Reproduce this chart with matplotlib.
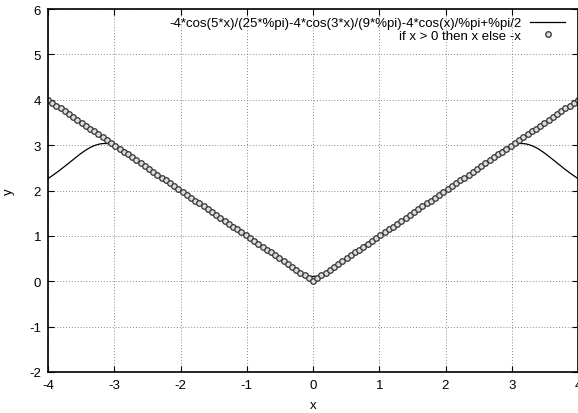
import numpy as np
import matplotlib
matplotlib.use("Agg")
from matplotlib import pyplot as plt

# fourier terms of the curve: -4*cos(k*x)/(k^2*%pi) for k in 1,3,5, plus %pi/2
harmonics = [1, 3, 5]
offset = np.pi / 2
x_curve = np.linspace(-4, 4, 400)
y_curve = offset - sum(4 * np.cos(k * x_curve) / (k * k * np.pi) for k in harmonics)

# sampled points of |x|
x_pts = np.linspace(-4, 4, 127)
y_pts = np.where(x_pts > 0, x_pts, -x_pts)

curve_label = "-4*cos(5*x)/(25*%pi)-4*cos(3*x)/(9*%pi)-4*cos(x)/%pi+%pi/2"
pts_label = "if x > 0 then x else -x"
xticks = [-4, -3, -2, -1, 0, 1, 2, 3, 4]
yticks = [-2, -1, 0, 1, 2, 3, 4, 5, 6]

plt.rcParams['font.family'] = ['Liberation Sans', 'DejaVu Sans']
plt.rcParams['font.size'] = 9.5
plt.rcParams['axes.unicode_minus'] = False

fig = plt.figure(figsize=(5.78, 4.14), dpi=100)
ax = fig.add_axes([48 / 578, 41 / 414, 530 / 578, 363 / 414])

ax.plot(x_curve, y_curve, color='black', lw=0.9, label=curve_label)
ax.plot(x_pts, y_pts, ls='none', marker='o', ms=4.0, mfc='#dddddd',
        mec='#333333', mew=0.9, label=pts_label)

ax.set_xlim(-4, 4)
ax.set_ylim(-2, 6)
ax.set_xticks(xticks)
ax.set_yticks(yticks)
ax.tick_params(direction='in', length=4, width=0.8, top=True, right=True, pad=5)
ax.grid(True, color='#888888', ls=(0, (1, 2)), lw=0.7)
for s in ax.spines.values():
    s.set_linewidth(1.2)

ax.set_xlabel("x", labelpad=6)
ax.set_ylabel("y", labelpad=10)

ax.legend(loc='upper right', bbox_to_anchor=(0.99, 1.0), frameon=False,
          markerfirst=False, handlelength=2.6, handletextpad=0.7,
          labelspacing=0.05, borderaxespad=0.2)

fig.savefig("out.png", dpi=100)
